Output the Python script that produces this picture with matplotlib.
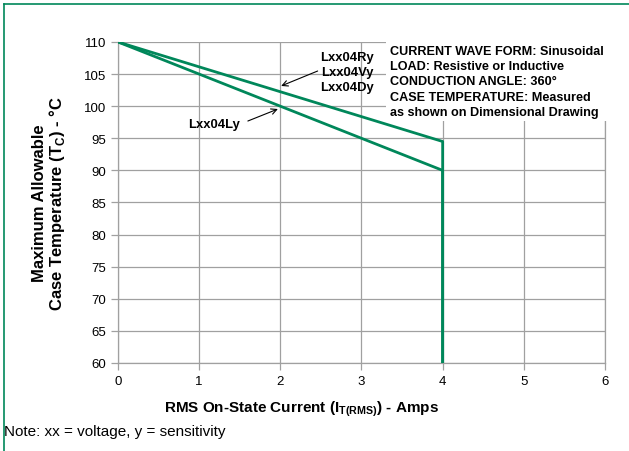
import matplotlib
matplotlib.use('Agg')
import matplotlib.pyplot as plt
from matplotlib.lines import Line2D

# data
current = [0, 4, 4]
temp_ry = [110, 94.5, 60]
temp_ly = [110, 90, 60]
x_ticks = [0, 1, 2, 3, 4, 5, 6]
y_ticks = [60, 65, 70, 75, 80, 85, 90, 95, 100, 105, 110]

green = '#00875a'
grid_grey = '#a0a0a0'

plt.rcParams['font.family'] = ['Liberation Sans', 'DejaVu Sans']

fig = plt.figure(figsize=(6.29, 4.52), dpi=100)
ax = fig.add_axes([0.1876, 0.1947, 0.7742, 0.7102])

ax.plot(current, temp_ry, color=green, lw=2.0, zorder=3)
ax.plot(current, temp_ly, color=green, lw=2.0, zorder=3)

ax.set_xlim(0, 6)
ax.set_ylim(60, 110)
ax.set_xticks(x_ticks)
ax.set_yticks(y_ticks)
ax.grid(True, color=grid_grey, lw=0.9)
for s in ax.spines.values():
    s.set_color(grid_grey)
    s.set_linewidth(0.9)
ax.spines['top'].set_visible(False)
ax.tick_params(colors=grid_grey, labelcolor='black', labelsize=9.5, length=5, width=0.9)

ax.set_xlabel('RMS On-State Current (I$_{\\mathregular{T(RMS)}}$) - Amps',
              fontsize=11, fontweight='bold')
ax.xaxis.set_label_coords(0.376, -0.11)
ax.set_ylabel('Maximum Allowable\nCase Temperature (T$_{\\mathregular{C}}$) - °C',
              fontsize=12, fontweight='bold', labelpad=12, linespacing=1.0)

# conditions box
ax.text(0.5585, 0.992,
        'CURRENT WAVE FORM: Sinusoidal\nLOAD: Resistive or Inductive\n'
        'CONDUCTION ANGLE: 360°\nCASE TEMPERATURE: Measured\nas shown on Dimensional Drawing',
        transform=ax.transAxes, ha='left', va='top', multialignment='left',
        fontsize=9.05, fontweight='bold', linespacing=1.37, zorder=5,
        bbox=dict(facecolor='white', edgecolor='none', pad=2.5))

# device annotations
ax.text(2.82, 105.3, 'Lxx04Ry\nLxx04Vy\nLxx04Dy', ha='center', va='center',
        fontsize=9.4, fontweight='bold', linespacing=1.3, zorder=6)
ax.annotate('', xy=(2.01, 103.15), xytext=(2.46, 105.48),
            arrowprops=dict(arrowstyle='->', color='black', lw=0.8, shrinkA=0, shrinkB=0))
ax.text(1.18, 97.23, 'Lxx04Ly', ha='center', va='center', fontsize=9.4, fontweight='bold')
ax.annotate('', xy=(1.97, 99.56), xytext=(1.60, 97.69),
            arrowprops=dict(arrowstyle='->', color='black', lw=0.8, shrinkA=0, shrinkB=0))

fig.text(0.007, 0.044, 'Note: xx = voltage, y = sensitivity', fontsize=11,
         ha='left', va='center')

# green page frame (top and left)
fig.add_artist(Line2D([0.006, 1.0], [0.989, 0.989], color=green, lw=1.2, transform=fig.transFigure))
fig.add_artist(Line2D([0.006, 0.006], [0.0, 0.989], color=green, lw=1.2, transform=fig.transFigure))

fig.savefig('out.png', dpi=100)
